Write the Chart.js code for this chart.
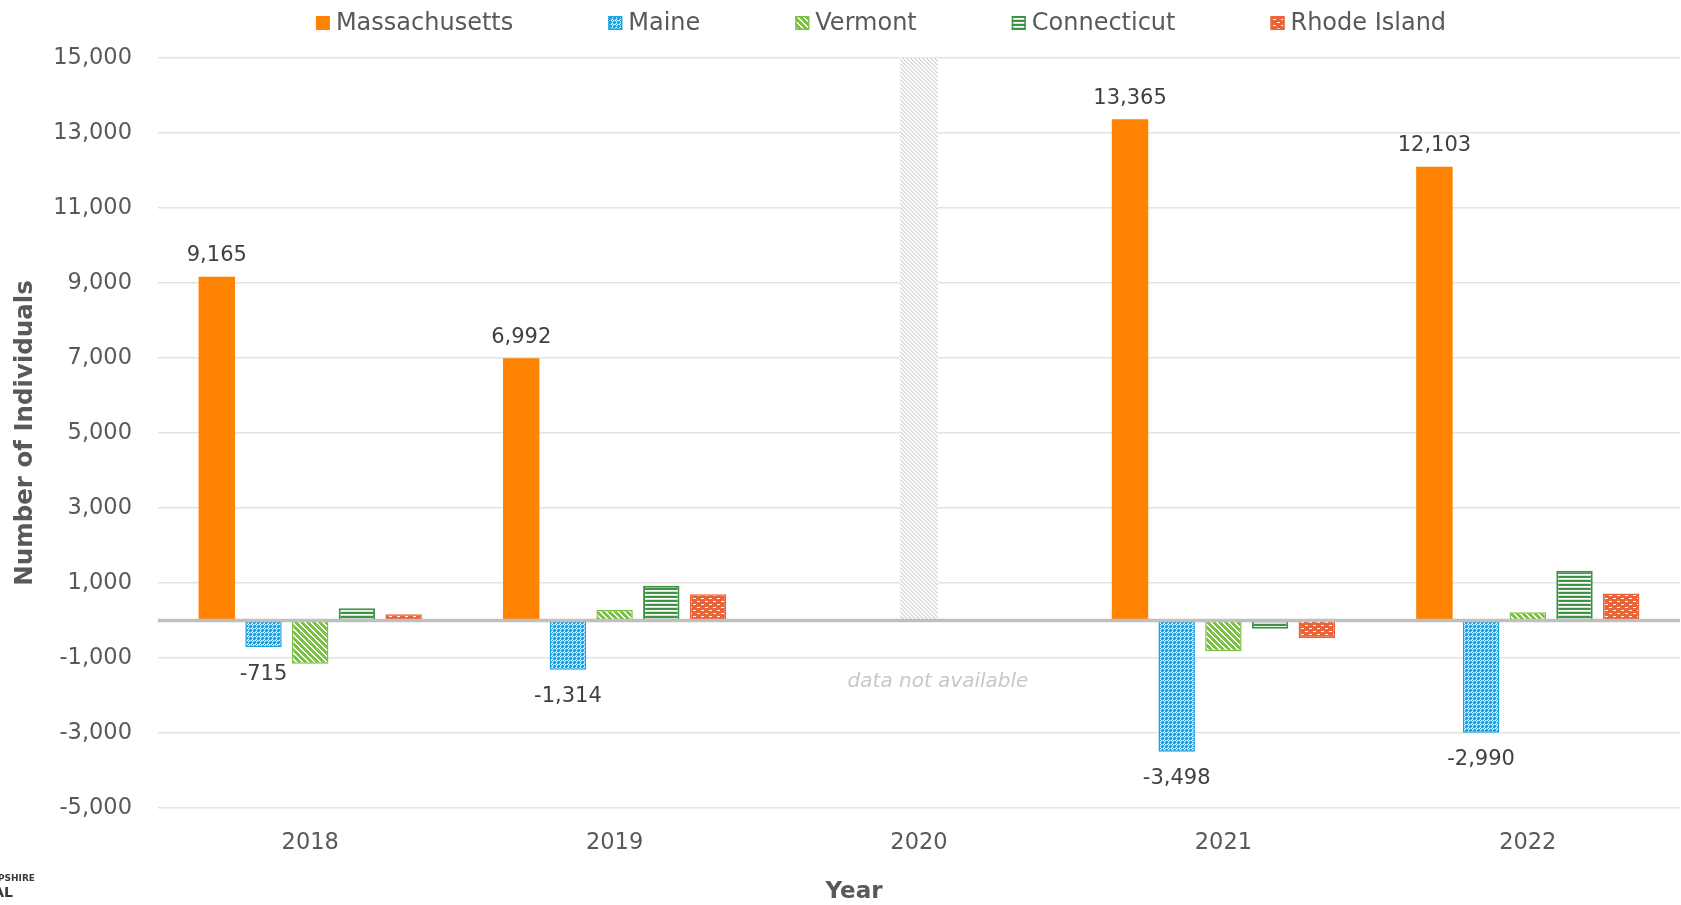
<!DOCTYPE html>
<html>
<head>
<meta charset="utf-8">
<title>Net migration into New Hampshire by state of origin</title>
<script src="https://cdn.jsdelivr.net/npm/chart.js@4.4.1/dist/chart.umd.min.js"></script>
<style>
  html, body { margin: 0; padding: 0; background: #fff; }
  #wrap { width: 1681px; height: 905px; position: relative; }
</style>
</head>
<body>
<div id="wrap"><canvas id="myChart"></canvas></div>
<script>
const years = ["2018", "2019", "2020", "2021", "2022"];
const massachusetts = [9165, 6992, null, 13365, 12103];
const maine = [-715, -1314, null, -3498, -2990];
const vermont = [-1150, 280, null, -820, 220];
const connecticut = [330, 930, null, -220, 1330];
const rhodeIsland = [170, 700, null, -470, 720];
// 2020: no data, grey placeholder up to the top of the axis
const notAvailable = [null, null, 15000, null, null];
const yTicks = [-5000, -3000, -1000, 1000, 3000, 5000, 7000, 9000, 11000, 13000, 15000];
const labelledSeries = ["Massachusetts", "Maine"];

const FONT = "'DejaVu Sans', sans-serif";
const TEXT = "#595959";

// small pixel tiles for the Excel style fills
function makePattern(w, h, draw) {
  const c = document.createElement("canvas");
  c.width = w;
  c.height = h;
  const g = c.getContext("2d");
  draw(g, w, h);
  return g.createPattern(c, "repeat");
}
function px(g, x, y, col) {
  g.fillStyle = col;
  g.fillRect(x, y, 1, 1);
}

const blueFill = makePattern(8, 8, (g, w, h) => {
  g.fillStyle = "#1A9FE0";
  g.fillRect(0, 0, w, h);
  for (let y = 0; y < h; y++)
    for (let x = 0; x < w; x++) {
      if ((x % 4 === 0 && y % 2 === 1) || (y % 4 === 0 && x % 2 === 1)) px(g, x, y, "#ffffff");
      else if ((x + y) % 4 === 2) px(g, x, y, "#8fd0f0");
    }
});
const greenStripes = makePattern(6, 6, (g, w, h) => {
  g.fillStyle = "#7DC144";
  g.fillRect(0, 0, w, h);
  for (let y = 0; y < h; y++)
    for (let x = 0; x < w; x++)
      if ((((x - y) % 6) + 6) % 6 < 2) px(g, x, y, "#ffffff");
});
const darkGreenLines = makePattern(4, 4, (g, w, h) => {
  g.fillStyle = "#3E9444";
  g.fillRect(0, 0, w, 2);
  g.fillStyle = "#ffffff";
  g.fillRect(0, 2, w, 1);
  g.fillStyle = "#cfe6cf";
  g.fillRect(0, 3, w, 1);
});
const redDashes = makePattern(8, 6, (g, w, h) => {
  g.fillStyle = "#EA6439";
  g.fillRect(0, 0, w, h);
  g.fillStyle = "#ffffff";
  g.fillRect(1, 1, 3, 1);
  g.fillRect(5, 4, 3, 1);
});
const greyHatch = makePattern(4, 4, (g, w, h) => {
  g.fillStyle = "#ffffff";
  g.fillRect(0, 0, w, h);
  for (let y = 0; y < h; y++)
    for (let x = 0; x < w; x++)
      if ((((x - y) % 4) + 4) % 4 < 2) px(g, x, y, "#dcdcdc");
});

const extras = {
  id: "extras",
  afterDatasetsDraw(chart) {
    const { ctx, chartArea, scales: { x, y } } = chart;

    // zero line sits on top of the bars
    const zy = y.getPixelForValue(0);
    ctx.save();
    ctx.strokeStyle = "#bfbfbf";
    ctx.lineWidth = 3.5;
    ctx.beginPath();
    ctx.moveTo(chartArea.left, zy);
    ctx.lineTo(chartArea.right, zy);
    ctx.stroke();

    // value labels for Massachusetts and Maine
    ctx.font = "21px " + FONT;
    ctx.fillStyle = "#404040";
    ctx.textAlign = "center";
    ctx.textBaseline = "middle";
    chart.data.datasets.forEach((ds, i) => {
      if (!labelledSeries.includes(ds.label)) return;
      chart.getDatasetMeta(i).data.forEach((bar, j) => {
        const v = ds.data[j];
        if (v == null) return;
        const ty = v >= 0 ? bar.y - 21 : bar.y + 27;
        ctx.fillText(v.toLocaleString("en-US"), bar.x, ty);
      });
    });

    // note under the 2020 placeholder
    ctx.font = "italic 20px " + FONT;
    ctx.fillStyle = "#c8c8c8";
    ctx.fillText("data not available", x.getPixelForValue(2) + 19, y.getPixelForValue(-1640));
    ctx.restore();
  },
  afterDraw(chart) {
    const ctx = chart.ctx;
    ctx.save();

    // legend
    const items = chart.data.datasets.filter(ds => ds.inLegend !== false);
    ctx.font = "24px " + FONT;
    ctx.textBaseline = "middle";
    ctx.textAlign = "left";
    const box = 14, gap = 6, spacing = 95;
    const widths = items.map(ds => box + gap + ctx.measureText(ds.label).width);
    const total = widths.reduce((a, b) => a + b, 0) + spacing * (items.length - 1);
    let lx = 881 - total / 2;
    const ly = 23;
    items.forEach((ds, i) => {
      ctx.fillStyle = ds.backgroundColor;
      ctx.fillRect(lx, ly - box / 2, box, box);
      if (ds.borderWidth) {
        ctx.strokeStyle = ds.borderColor;
        ctx.lineWidth = 1.5;
        ctx.strokeRect(lx + 0.75, ly - box / 2 + 0.75, box - 1.5, box - 1.5);
      }
      ctx.fillStyle = TEXT;
      ctx.fillText(ds.label, lx + box + gap, ly + 1);
      lx += widths[i] + spacing;
    });

    // x axis title
    ctx.font = "bold 23px " + FONT;
    ctx.textAlign = "center";
    ctx.fillStyle = TEXT;
    ctx.fillText("Year", 854, 892);

    // cut-off logo in the corner
    ctx.textAlign = "right";
    ctx.fillStyle = "#3a3a3a";
    ctx.font = "bold 9px " + FONT;
    ctx.fillText("NEW HAMPSHIRE", 35, 879);
    ctx.font = "bold 14px " + FONT;
    ctx.fillText("FISCAL", 13, 893);
    ctx.restore();
  }
};

const barBase = { borderSkipped: false, categoryPercentage: 0.767, barPercentage: 0.78 };

new Chart(document.getElementById("myChart"), {
  type: "bar",
  data: {
    labels: years,
    datasets: [
      { ...barBase, label: "Massachusetts", data: massachusetts, backgroundColor: "#FF8200", borderWidth: 0 },
      { ...barBase, label: "Maine", data: maine, backgroundColor: blueFill, borderColor: "#1A9FE0", borderWidth: 1.5 },
      { ...barBase, label: "Vermont", data: vermont, backgroundColor: greenStripes, borderColor: "#7DC144", borderWidth: 1.5 },
      { ...barBase, label: "Connecticut", data: connecticut, backgroundColor: darkGreenLines, borderColor: "#3E9444", borderWidth: 2 },
      { ...barBase, label: "Rhode Island", data: rhodeIsland, backgroundColor: redDashes, borderColor: "#EA6439", borderWidth: 1.5 },
      {
        label: "data not available", data: notAvailable, inLegend: false,
        grouped: false, categoryPercentage: 0.125, barPercentage: 1,
        backgroundColor: greyHatch, borderWidth: 0
      }
    ]
  },
  options: {
    responsive: true,
    maintainAspectRatio: false,
    animation: false,
    layout: { padding: { top: 58, right: 1, bottom: 0, left: 0 } },
    plugins: {
      legend: { display: false },
      tooltip: { enabled: false }
    },
    scales: {
      x: {
        grid: { display: false },
        border: { display: false },
        ticks: { color: TEXT, font: { family: FONT, size: 22.5 }, padding: 14 },
        afterFit: scale => { scale.height = 97; }
      },
      y: {
        min: -5000,
        max: 15000,
        afterBuildTicks: scale => { scale.ticks = yTicks.map(v => ({ value: v })); },
        grid: { color: "#e3e3e3", lineWidth: 1.5, drawTicks: false },
        border: { display: false },
        ticks: {
          color: TEXT,
          font: { family: FONT, size: 22.5 },
          padding: 26,
          callback: v => Number(v).toLocaleString("en-US")
        },
        title: {
          display: true,
          text: "Number of Individuals",
          color: TEXT,
          font: { family: FONT, size: 24.5, weight: "bold" },
          padding: { top: 11, bottom: 0 }
        },
        afterFit: scale => { scale.width = 158; }
      }
    }
  },
  plugins: [extras]
});
</script>
</body>
</html>
